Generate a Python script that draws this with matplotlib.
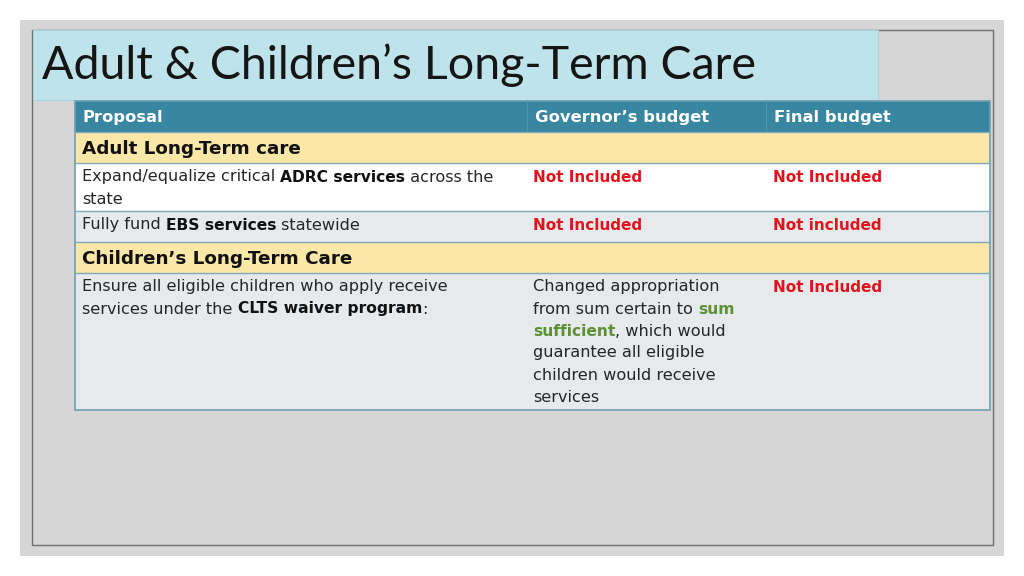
import matplotlib
matplotlib.use("Agg")
import matplotlib.pyplot as plt
from matplotlib.patches import Rectangle

# ---- data ----
title = "Adult & Children\u2019s Long-Term Care"
headers = ["Proposal", "Governor\u2019s budget", "Final budget"]
sections = ["Adult Long-Term care", "Children\u2019s Long-Term Care"]
# rich text: list of lines, each a list of (text, style) ; style: n=normal, b=bold, g=green bold, r=red bold
proposal_adrc = [[("Expand/equalize critical ", "n"), ("ADRC services", "b"), (" across the", "n")], [("state", "n")]]
proposal_ebs = [[("Fully fund ", "n"), ("EBS services", "b"), (" statewide", "n")]]
proposal_clts = [[("Ensure all eligible children who apply receive", "n")],
                 [("services under the ", "n"), ("CLTS waiver program", "b"), (":", "n")]]
governor_adrc = [[("Not Included", "r")]]
governor_ebs = [[("Not Included", "r")]]
governor_clts = [[("Changed appropriation", "n")],
                 [("from sum certain to ", "n"), ("sum", "g")],
                 [("sufficient", "g"), (", which would", "n")],
                 [("guarantee all eligible", "n")],
                 [("children would receive", "n")],
                 [("services", "n")]]
final_adrc = [[("Not Included", "r")]]
final_ebs = [[("Not included", "r")]]
final_clts = [[("Not Included", "r")]]

TFONT = "Lato"
FONT = "DejaVu Sans"
W, H = 1024, 576
fig = plt.figure(figsize=(W / 100, H / 100), dpi=100)
fig.patch.set_facecolor("white")
ax = fig.add_axes([0, 0, 1, 1])
ax.set_xlim(0, W)
ax.set_ylim(H, 0)
ax.axis("off")

# slide background
ax.add_patch(Rectangle((20, 20), 984, 536, facecolor="#d6d6d6", edgecolor="none"))
ax.add_patch(Rectangle((32, 30), 961, 515, facecolor="none", edgecolor="#6e6e6e", lw=1.0))
ax.add_patch(Rectangle((33, 30), 845, 70, facecolor="#bfe3ea", edgecolor="#a9d3dc", lw=0.8))
ax.text(42, 65, title, fontsize=33.5, family=TFONT, weight="normal", color="#151515", va="center", ha="left")

renderer = fig.canvas.get_renderer()

styles = {
    "n": dict(color="#262626", weight="normal", fontsize=11.6),
    "b": dict(color="#111111", weight="bold", fontsize=11.2),
    "g": dict(color="#5e9136", weight="bold", fontsize=11.2),
    "r": dict(color="#e3121c", weight="bold", fontsize=11.0),
}

def rich(x0, y0, lines, lh=22):
    for i, line in enumerate(lines):
        x = x0
        y = y0 + i * lh
        for txt, st in line:
            t = ax.text(x, y, txt, family=FONT, va="center", ha="left", **styles[st])
            bb = t.get_window_extent(renderer=renderer)
            x += bb.width

# table geometry
cols = [75, 527, 766, 990]
rows = [101, 132, 163, 211, 242, 273, 410]
line_c = "#7fa9b8"

# header
ax.add_patch(Rectangle((cols[0], rows[0]), cols[3] - cols[0], rows[1] - rows[0], facecolor="#38869f", edgecolor="none"))
for j, h in enumerate(headers):
    ax.text(cols[j] + 8, (rows[0] + rows[1]) / 2 + 1, h, fontsize=11.8, family=FONT, weight="bold",
            color="white", va="center", ha="left")
ax.plot([cols[1], cols[1]], [rows[0], rows[1]], color="#4d97ae", lw=0.8)
ax.plot([cols[2], cols[2]], [rows[0], rows[1]], color="#4d97ae", lw=0.8)

# sections
for k, (r0, r1) in enumerate([(rows[1], rows[2]), (rows[4], rows[5])]):
    ax.add_patch(Rectangle((cols[0], r0), cols[3] - cols[0], r1 - r0, facecolor="#fbe8a8", edgecolor="none"))
    ax.text(cols[0] + 7, (r0 + r1) / 2 + 1, sections[k], fontsize=13.2, family=FONT, weight="bold",
            color="#111111", va="center", ha="left")

# body rows
body = [
    (rows[2], rows[3], "#ffffff", proposal_adrc, governor_adrc, final_adrc),
    (rows[3], rows[4], "#e6eaed", proposal_ebs, governor_ebs, final_ebs),
    (rows[5], rows[6], "#e6eaed", proposal_clts, governor_clts, final_clts),
]
for r0, r1, fc, p, g, f in body:
    ax.add_patch(Rectangle((cols[0], r0), cols[3] - cols[0], r1 - r0, facecolor=fc, edgecolor="none"))
    rich(cols[0] + 7, r0 + 14, p)
    rich(cols[1] + 6, r0 + 14, g)
    rich(cols[2] + 7, r0 + 14, f)

# row separators
for y in rows[1:-1]:
    ax.plot([cols[0], cols[3]], [y, y], color=line_c, lw=1.0)
ax.add_patch(Rectangle((cols[0], rows[0]), cols[3] - cols[0], rows[-1] - rows[0], facecolor="none",
                       edgecolor="#6f9fb2", lw=1.2))

fig.savefig("out.png", dpi=100)
